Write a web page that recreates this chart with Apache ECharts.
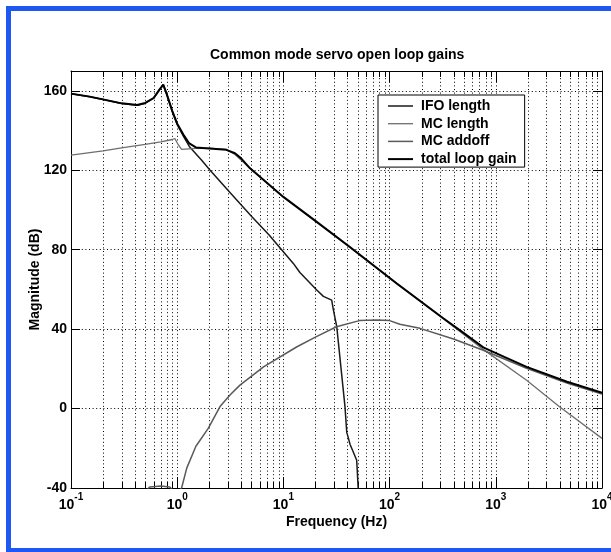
<!DOCTYPE html>
<html>
<head>
<meta charset="UTF-8">
<title>Common mode servo open loop gains</title>
<script src="https://cdn.jsdelivr.net/npm/echarts/dist/echarts.min.js"></script>
<style>
  html, body { margin: 0; padding: 0; background: #fff; }
  #chart { position: absolute; left: 0; top: 0; width: 611px; height: 552px; }
  .frame { position: absolute; left: 6px; top: 6px; width: 620px; height: 537px;
           border: 5px solid #1f57f5; pointer-events: none; }
</style>
</head>
<body>
<div id="chart"></div>
<div class="frame"></div>
<script>
// IFO length
var ifoFreq = [0.1, 0.15, 0.2, 0.3, 0.42, 0.5, 0.6, 0.68, 0.74, 0.8, 0.9, 1.0, 1.15, 1.3, 1.7, 2.04,
               3.14, 5, 7.3, 12.4, 14.3, 20.6, 23.8, 28.5, 29.5, 31.8, 38, 39.5, 40.5, 42.4, 49, 50.7];
var ifoMag  = [158.5, 157, 155.6, 153.6, 152.8, 153.8, 156.3, 160.5, 163, 158, 149.5, 143, 137, 132, 125, 120,
               108.8, 96.8, 87.5, 73.1, 68.5, 59.7, 56.5, 54.6, 50, 41.2, 1, -12, -14, -18, -26, -41];

// MC length
var mcFreq = [0.1, 0.2, 0.3, 0.5, 0.7, 0.9, 0.95, 1.02, 1.1, 1.5, 2, 2.9, 3.5, 4.85, 10, 20.6, 42, 117,
              320, 762, 1950, 3980, 10000];
var mcMag  = [127.6, 129.8, 131.3, 133, 134.3, 135.5, 136, 133, 130.5, 131, 131.2, 130.5, 128, 121, 106.4, 93.8, 81.3, 62.8,
              45.2, 29.8, 14.3, 0.9, -15];

// MC addoff
var addFreq = [0.5, 0.55, 0.7, 0.85, 0.95, 1.05, 1.1, 1.23, 1.5, 1.96, 2.53, 3.14, 3.9, 6.5, 13.3, 20, 31.6,
               52, 75, 100, 125, 193, 400, 762, 1950, 4680, 10000];
var addMag  = [-42, -39.5, -39, -39.5, -42, -41, -40, -30, -19, -10, 1, 6.8, 11.8, 21, 31, 36, 41.2,
               44.3, 44.6, 44.3, 42.5, 40.4, 35, 29.4, 20.3, 12.8, 7.3];

// total loop gain
var totFreq = [0.1, 0.15, 0.2, 0.3, 0.42, 0.5, 0.6, 0.68, 0.74, 0.8, 0.9, 1.0, 1.15, 1.3, 1.5, 2, 2.9, 3.5,
               4, 4.85, 10, 20.6, 42, 117, 320, 500, 762, 1200, 1950, 4680, 10000];
var totMag  = [158.6, 157.1, 155.7, 153.7, 152.9, 153.9, 156.4, 160.6, 163.1, 158.1, 149.8, 143.5, 137.8, 133.5, 131.5, 131, 130.3, 128.6,
               126, 121, 106.6, 94, 81.5, 63, 45.5, 38, 30.8, 26, 21, 13.5, 8];

// minor log grid lines
var minorTicks = [0.2, 0.3, 0.4, 0.5, 0.6, 0.7, 0.8, 0.9,
                  2, 3, 4, 5, 6, 7, 8, 9,
                  20, 30, 40, 50, 60, 70, 80, 90,
                  200, 300, 400, 500, 600, 700, 800, 900,
                  2000, 3000, 4000, 5000, 6000, 7000, 8000, 9000];

var seriesNames = ['IFO length', 'MC length', 'MC addoff', 'total loop gain'];

function pairs(xs, ys) {
    return xs.map(function (x, i) { return [x, ys[i]]; });
}

// legend sample: a plain horizontal bar of the line's thickness
function bar(h) {
    return 'path://M0,0 L25,0 L25,' + h + ' L0,' + h + ' Z';
}

var font = 'Liberation Sans';
var dots = [1, 2.6];
var myChart = echarts.init(document.getElementById('chart'));

var option = {
    animation: false,
    backgroundColor: '#fff',
    title: {
        text: 'Common mode servo open loop gains',
        left: 210, top: 48, padding: 0,
        textStyle: { fontFamily: font, fontSize: 14, fontWeight: 'bold', color: '#000' }
    },
    grid: { left: 71, right: 9, top: 71, bottom: 64, outerBoundsMode: 'none' },
    legend: {
        data: [
            { name: seriesNames[0], icon: bar(1.5) },
            { name: seriesNames[1], icon: bar(1.3) },
            { name: seriesNames[2], icon: bar(1.5) },
            { name: seriesNames[3], icon: bar(2) }
        ],
        orient: 'vertical',
        left: 378, top: 95,
        padding: [4, 8, 1, 10],
        itemWidth: 25, itemHeight: 14, itemGap: 3.7,
        backgroundColor: '#fff', borderColor: '#000', borderWidth: 1,
        textStyle: { fontFamily: font, fontSize: 14, fontWeight: 'bold', color: '#000', padding: [0, 0, 0, 3] }
    },
    xAxis: [{
        type: 'log', logBase: 10, min: 0.1, max: 10000,
        name: 'Frequency (Hz)', nameLocation: 'middle', nameGap: 27, nameMoveOverlap: false,
        nameTextStyle: { fontFamily: font, fontSize: 14, fontWeight: 'bold', color: '#000' },
        axisLine: { show: true, onZero: false, lineStyle: { color: '#000', width: 1 } },
        axisTick: { show: true, inside: true, length: 11, lineStyle: { color: '#000' } },
        axisLabel: {
            margin: 4, showMinLabel: true, showMaxLabel: true,
            formatter: function (v) {
                return '{b|10}{s|' + Math.round(Math.log10(v)) + '}';
            },
            rich: {
                b: { fontFamily: font, fontSize: 14, fontWeight: 'bold', color: '#000', lineHeight: 20, verticalAlign: 'bottom' },
                s: { fontFamily: font, fontSize: 10, fontWeight: 'bold', color: '#000', lineHeight: 20, verticalAlign: 'top' }
            }
        },
        splitLine: { show: true, lineStyle: { color: '#000', width: 1, type: dots } }
    }, {
        type: 'log', logBase: 10, min: 0.1, max: 10000, position: 'top',
        axisLine: { show: true, onZero: false, lineStyle: { color: '#000', width: 1 } },
        axisTick: { show: true, inside: true, length: 11, lineStyle: { color: '#000' } },
        axisLabel: { show: false },
        splitLine: { show: false }
    }],
    yAxis: [{
        type: 'value', min: -40, max: 170, interval: 40,
        name: 'Magnitude (dB)', nameLocation: 'middle', nameGap: 29, nameMoveOverlap: false,
        nameTextStyle: { fontFamily: font, fontSize: 14, fontWeight: 'bold', color: '#000' },
        axisLine: { show: true, onZero: false, lineStyle: { color: '#000', width: 1 } },
        axisTick: { show: true, inside: true, length: 9, lineStyle: { color: '#000' } },
        axisLabel: {
            margin: 4, fontFamily: font, fontSize: 14, fontWeight: 'bold', color: '#000',
            formatter: function (v) { return v > 165 ? '' : String(v); }
        },
        splitLine: { show: true, lineStyle: { color: '#000', width: 1, type: dots } }
    }, {
        type: 'value', min: -40, max: 170, interval: 40, position: 'right',
        axisLine: { show: true, onZero: false, lineStyle: { color: '#000', width: 1 } },
        axisTick: { show: true, inside: true, length: 9, lineStyle: { color: '#000' } },
        axisLabel: { show: false },
        splitLine: { show: false }
    }],
    series: [
        {
            type: 'custom', name: 'grid', silent: true, z: 1,
            data: minorTicks.map(function (v) { return [v, 0]; }),
            encode: { x: 0, y: 1 },
            renderItem: function (params, api) {
                var cs = params.coordSys;
                var x = Math.round(api.coord([api.value(0), 0])[0]) + 0.5;
                var yTop = cs.y, yBot = cs.y + cs.height;
                return {
                    type: 'group',
                    children: [
                        { type: 'line', shape: { x1: x, y1: yTop, x2: x, y2: yBot },
                          style: { stroke: '#000', lineWidth: 1, lineDash: dots } },
                        { type: 'line', shape: { x1: x, y1: yBot, x2: x, y2: yBot - 6 },
                          style: { stroke: '#000', lineWidth: 1 } },
                        { type: 'line', shape: { x1: x, y1: yTop, x2: x, y2: yTop + 6 },
                          style: { stroke: '#000', lineWidth: 1 } }
                    ]
                };
            }
        },
        {
            name: 'IFO length', type: 'line', z: 3, symbol: 'none', showSymbol: false, clip: true,
            data: pairs(ifoFreq, ifoMag),
            lineStyle: { color: '#1a1a1a', width: 1.5 }, itemStyle: { color: '#1a1a1a' }
        },
        {
            name: 'MC length', type: 'line', z: 3, symbol: 'none', showSymbol: false, clip: true,
            data: pairs(mcFreq, mcMag),
            lineStyle: { color: '#6e6e6e', width: 1.3 }, itemStyle: { color: '#6e6e6e' }
        },
        {
            name: 'MC addoff', type: 'line', z: 3, symbol: 'none', showSymbol: false, clip: true,
            data: pairs(addFreq, addMag),
            lineStyle: { color: '#5a5a5a', width: 1.5 }, itemStyle: { color: '#5a5a5a' }
        },
        {
            name: 'total loop gain', type: 'line', z: 4, symbol: 'none', showSymbol: false, clip: true,
            data: pairs(totFreq, totMag),
            lineStyle: { color: '#000', width: 2 }, itemStyle: { color: '#000' }
        }
    ]
};

myChart.setOption(option);
</script>
</body>
</html>
